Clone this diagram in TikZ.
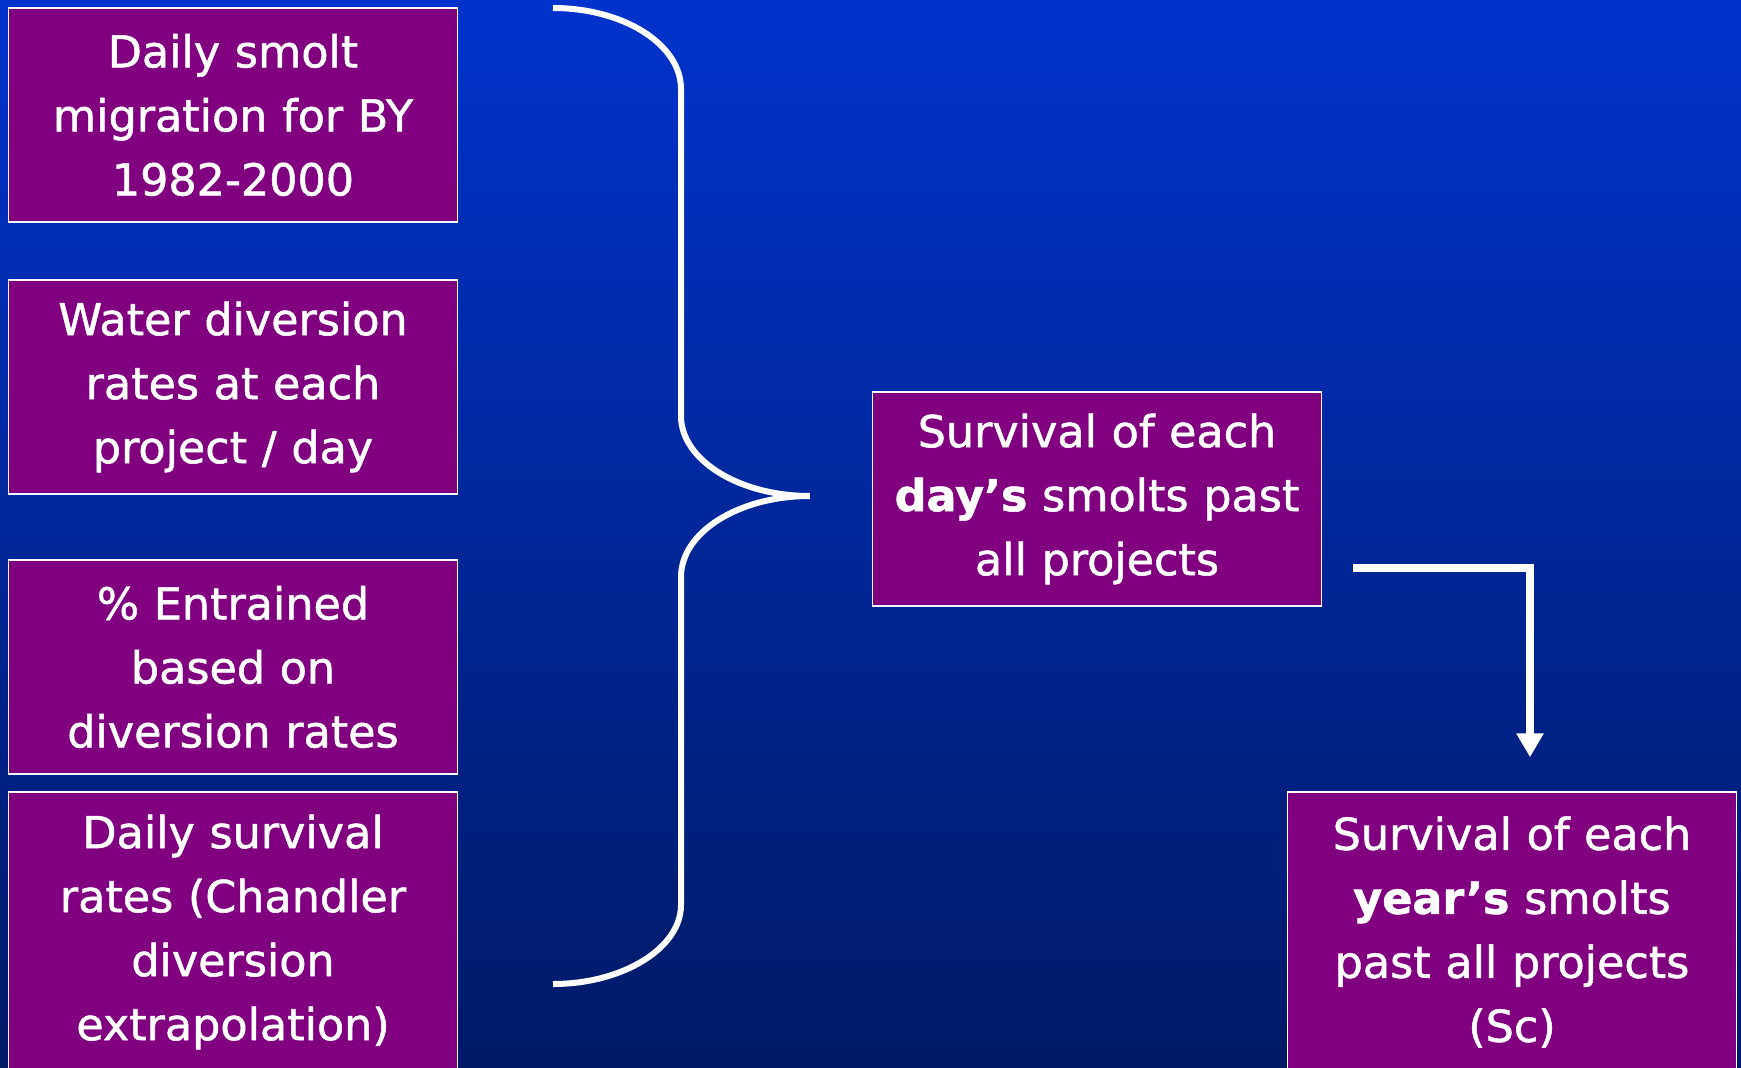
\documentclass[tikz,border=0pt]{standalone}
\usepackage{fontspec}
\setmainfont{DejaVu Sans}[FakeStretch=1.01, FakeBold=1.2]
\usetikzlibrary{arrows.meta,calc}
\definecolor{fondoarriba}{RGB}{0,51,204}
\definecolor{fondoabajo}{RGB}{0,26,102}
\definecolor{morado}{RGB}{128,0,128}
\tikzset{
  caja/.style={draw=white, line width=1.5pt, fill=morado, text=white, inner sep=0pt,
    text width=449pt, minimum height=214pt, align=center,
    font=\fontsize{44}{64}\selectfont},
  caja4/.style={caja, minimum height=280pt},
  llave/.style={draw=white, line width=6pt},
  flecha/.style={draw=white, line width=8pt, -{Triangle[width=26pt,length=24pt]}}
}
\begin{document}
\begin{tikzpicture}[x=1pt,y=-1pt]
            % Fondo
            \useasboundingbox (0,0) rectangle (1741,1068);
            \clip (0,0) rectangle (1741,1068);
            \shade[top color=fondoarriba, bottom color=fondoabajo] (0,0) rectangle (1741,1068);

            % Cajas
            \node[caja] (smolt) at (233,115) {Daily smolt\\migration for BY\\1982-2000};
            \node[caja] (agua) at (233,387) {Water diversion\\rates at each\\project / day};
            \node[caja] (entr) at (233,667) {\% Entrained\\based on\\diversion rates};
            \node[caja4] (superv) at (233,932) {Daily survival\\rates (Chandler\\diversion\\extrapolation)};
            \node[caja] (dia) at (1097,499) {Survival of each\\\textbf{day’s} smolts past\\all projects};
            \node[caja4] (anio) at (1512,932) {Survival of each\\\textbf{year’s} smolts\\past all projects\\(Sc)};

            % Llave
            \coordinate (punta) at ($(dia.west)+(-62,-3)$);
            \draw[llave] (553,8) .. controls (623,8) and (681,44) .. (681,89) -- (681,416)
              .. controls (681,460) and (739,496) .. (punta)
              .. controls (739,496) and (681,532) .. (681,577) -- (681,905)
              .. controls (681,948) and (623,984) .. (553,984);

            % Flecha
            \draw[flecha] ($(dia.south east)+(31,-39)$) -| ($(anio.north)+(18,-34)$);
\end{tikzpicture}
\end{document}
